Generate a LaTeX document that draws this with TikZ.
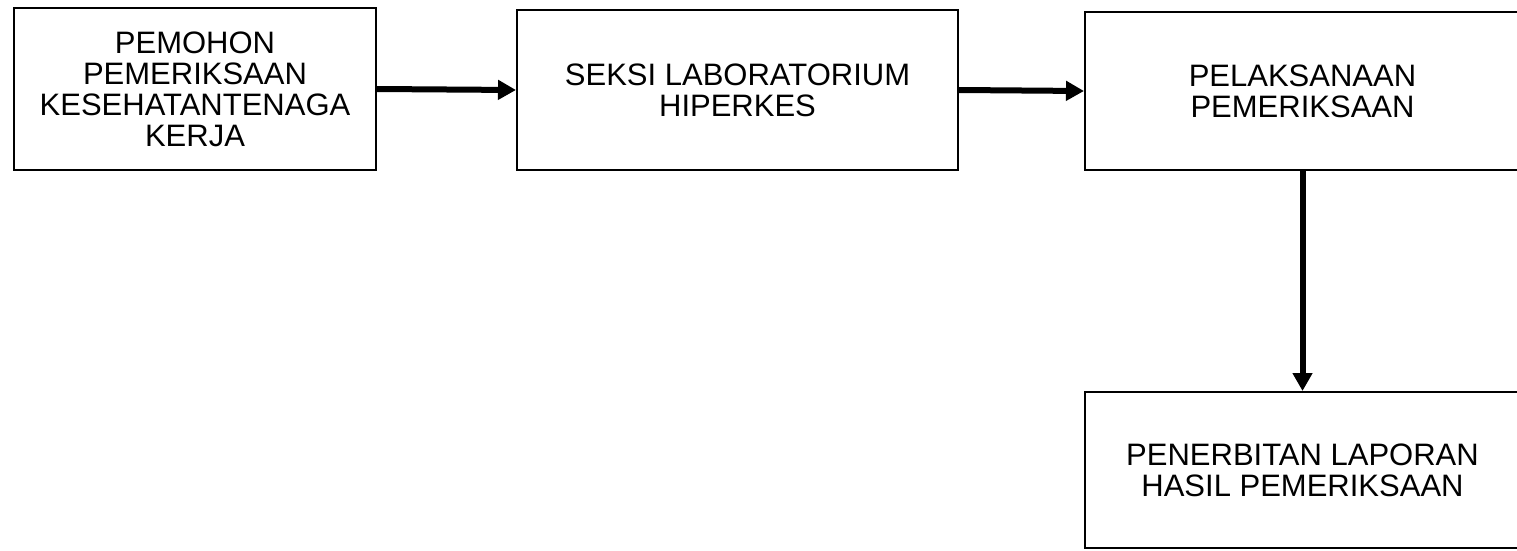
\documentclass[tikz,border=0pt]{standalone}
\usepackage{fontspec}
\setmainfont{Liberation Sans}
\usetikzlibrary{arrows.meta,positioning}

\begin{document}
\begin{tikzpicture}[x=1pt,y=1pt,
  procbox/.style = {shape=rectangle, draw, line width=2pt, align=center,
    inner sep=0pt, font=\fontsize{31}{31}\selectfont},
  line/.style={draw, line width=6pt, -{Triangle[length=18pt,width=19pt]}}
  ]
  \useasboundingbox (0,0) rectangle (1517,550);
  \clip (0,0) rectangle (1517,550);
  % top row
  \node[procbox, minimum width=362pt, minimum height=162pt] (pemohon) at (195,461)
    {PEMOHON\\PEMERIKSAAN\\KESEHATANTENAGA\\KERJA};
  \node[procbox, minimum width=441pt, minimum height=160pt] (seksi) at (737.5,460)
    {SEKSI LABORATORIUM\\HIPERKES};
  \node[procbox, minimum width=435pt, minimum height=158pt] (pelaksanaan) at (1302.5,459)
    {PELAKSANAAN\\PEMERIKSAAN};
  % bottom
  \node[procbox, minimum width=435pt, minimum height=156pt] (laporan) at (1302.5,80)
    {PENERBITAN LAPORAN\\HASIL PEMERIKSAAN};
  % arrows
  \path[line] (pemohon.east) -- (seksi.west);
  \path[line] (seksi.east) -- (pelaksanaan.west);
  \path[line] (pelaksanaan.south) -- (laporan.north);
\end{tikzpicture}
\end{document}
